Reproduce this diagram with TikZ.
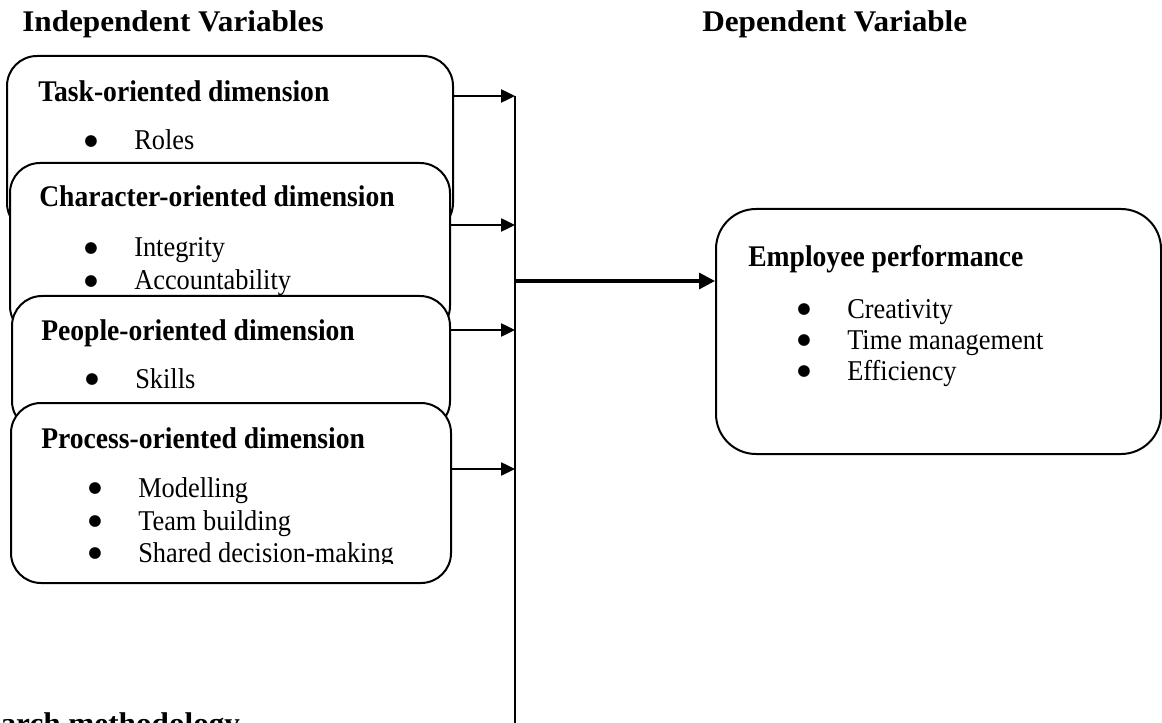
\documentclass[tikz,border=0pt]{standalone}
\usepackage{fontspec}
\setmainfont{Liberation Serif}[FakeStretch=0.92]
\newfontfamily\hdfont{Liberation Serif}[FakeStretch=1.04]
\newfontfamily\dvs{DejaVu Sans}
\usetikzlibrary{arrows.meta}
\newcommand\itm[1]{\makebox[37.5pt][l]{\raisebox{3.2pt}{\dvs\fontsize{11.5pt}{11.5pt}\selectfont ●}}#1}
\begin{document}
\begin{tikzpicture}[x=0.75pt,y=-0.75pt,
 box/.style={draw, line width=1.5pt, rounded corners=22.5pt, fill=white, inner sep=0pt, anchor=north west},
 head/.style={font=\hdfont\bfseries\fontsize{22.5pt}{27pt}\selectfont, inner sep=0pt, anchor=base west},
 ttl/.style={font=\bfseries\fontsize{22.5pt}{27pt}\selectfont, inner sep=0pt, anchor=base west},
 itemtxt/.style={font=\fontsize{21.5pt}{26pt}\selectfont, inner sep=0pt, anchor=base west},
 arr/.style={line width=1pt, -{Triangle[length=10.5pt,width=10pt]}},
 bigarr/.style={line width=2.5pt, -{Triangle[length=12pt,width=12pt]}},
 vline/.style={line width=1pt}
]
\useasboundingbox (0,0) rectangle (1162,723);
\clip (0,0) rectangle (1162,723);

% headings
\node[head] (hind) at (22,32) {Independent Variables};
\node[head] (hdep) at (702,32) {Dependent Variable};
\node[head] (hres) at (-62,733) {Research methodology};

% Box 1
\node[box, minimum width=446*0.75pt, minimum height=177*0.75pt] (b1) at (6,55) {};
\node[ttl] (b1t) at (38,102) {Task-oriented dimension};
\node[itemtxt] (b1i1) at (84,150) {\itm{Roles}};

% Box 2
\node[box, minimum width=440*0.75pt, minimum height=173*0.75pt] (b2) at (9,162) {};
\node[ttl] (b2t) at (39,207) {Character-oriented dimension};
\node[itemtxt] (b2i1) at (84,257) {\itm{Integrity}};
\node[itemtxt] (b2i2) at (84,290) {\itm{Accountability}};

% Box 3
\node[box, minimum width=438*0.75pt, minimum height=135*0.75pt] (b3) at (11,295) {};
\node[ttl] (b3t) at (41,340) {People-oriented dimension};
\node[itemtxt] (b3i1) at (85,388) {\itm{Skills}};

% Box 4
\node[box, minimum width=440*0.75pt, minimum height=180*0.75pt] (b4) at (10,402) {};
\node[ttl] (b4t) at (41,448) {Process-oriented dimension};
\begin{scope}
\clip (10,402) rectangle (450,563.5);
\node[itemtxt] (b4i1) at (88,497) {\itm{Modelling}};
\node[itemtxt] (b4i2) at (88,530) {\itm{Team building}};
\node[itemtxt] (b4i3) at (88,562) {\itm{Shared decision-making}};
\end{scope}

% Employee box
\node[box, rounded corners=30pt, minimum width=445*0.75pt, minimum height=245*0.75pt] (emp) at (715,208) {};
\node[ttl] (empt) at (748,267) {Employee performance};
\node[itemtxt] (empi1) at (797,318) {\itm{Creativity}};
\node[itemtxt] (empi2) at (797,349) {\itm{Time management}};
\node[itemtxt] (empi3) at (797,380) {\itm{Efficiency}};

% connectors
\coordinate (t1) at (515,96);
\coordinate (t2) at (515,225);
\coordinate (t3) at (515,330);
\coordinate (t4) at (515,469);
\coordinate (tm) at (515,281);
\coordinate (vb) at (515,723);
\draw[vline] (t1) -- (vb);
\draw[arr] (b1.east |- t1) -- (t1);
\draw[arr] (b2.east |- t2) -- (t2);
\draw[arr] (b3.east |- t3) -- (t3);
\draw[arr] (b4.east |- t4) -- (t4);
\draw[bigarr] (tm) -- (tm -| emp.west);
\end{tikzpicture}
\end{document}
